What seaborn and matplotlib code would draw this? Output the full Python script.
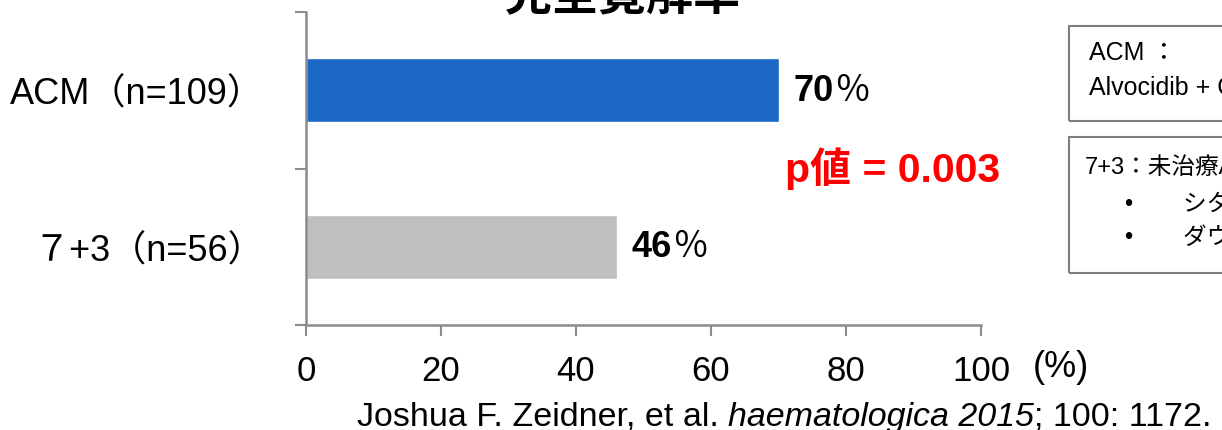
import matplotlib
matplotlib.use("Agg")
import matplotlib.pyplot as plt
import seaborn as sns
from matplotlib.patches import Rectangle

# Data
groups = ["ACM（n=109）", "７+3（n=56）"]
cr_rates = [70, 46]
bar_colors = ["#1B68C7", "#BFBFBF"]
x_ticks = [0, 20, 40, 60, 80, 100]
title = "完全寛解率"
p_text = "p値 = 0.003"
citation = ["Joshua F. Zeidner, et al. ", "haematologica 2015", "; 100: 1172."]
box1_lines = ["ACM ：", "Alvocidib + Cytarabine + Mitoxantrone"]
box2_lines = ["7+3：未治療AMLの標準的寛解導入療法", "シタラビン 7日間持続投与", "ダウノルビシン 3日間投与"]

sns.set_style("white")
plt.rcParams["font.family"] = ["Liberation Sans", "Noto Sans CJK JP", "DejaVu Sans"]
plt.rcParams["text.color"] = "black"
plt.rcParams["xtick.labelcolor"] = "black"
plt.rcParams["ytick.labelcolor"] = "black"

W, H = 1222, 431
fig = plt.figure(figsize=(W / 100, H / 100), dpi=100)
ax = fig.add_axes([306 / W, 1 - 326 / H, (981 - 306) / W, (326 - 13) / H])

sns.barplot(x=cr_rates, y=groups, hue=groups, palette=bar_colors, orient="h",
            width=0.41, legend=False, ax=ax, saturation=1)

ax.set_xlim(0, 100)
ax.set_ylim(1.5, -0.5)
ax.set_xlabel("")
ax.set_ylabel("")

axis_gray = "#8C8C8C"
for side in ["top", "right"]:
    ax.spines[side].set_visible(False)
for side in ["left", "bottom"]:
    ax.spines[side].set_color(axis_gray)
    ax.spines[side].set_linewidth(1.8)

# x axis
ax.set_xticks(x_ticks)
ax.set_xticklabels([str(t) for t in x_ticks], fontsize=25)
ax.tick_params(axis="x", bottom=True, direction="out", length=8, width=1.5,
               color=axis_gray, labelcolor="black", pad=13)

# y axis: labels at category centres, marks at boundaries
ax.set_yticks([0, 1])
ax.set_yticklabels(groups, fontsize=26)
ax.tick_params(axis="y", which="major", left=True, length=0, pad=30, labelcolor="black")
ax.set_yticks([-0.5, 0.5, 1.5], minor=True)
ax.tick_params(axis="y", which="minor", left=True, direction="out", length=8,
               width=1.5, color=axis_gray)

# value labels
for i, v in enumerate(cr_rates):
    t = ax.annotate(str(v), xy=(v, i), xytext=(11, 0), textcoords="offset points",
                    va="center", ha="left", fontsize=26, fontweight="bold", color="black")
    ax.annotate("％", xy=(1, 0), xycoords=t, va="bottom", ha="left", fontsize=26,
                family=["Noto Sans CJK JP"], color="black")

ax.text(785 / W, 1 - 169 / H, p_text, transform=fig.transFigure, color="#FF0000",
        fontsize=29.5, fontweight="bold", va="center", ha="left")

# (%) unit label
fig.text(1033 / W, 1 - 368 / H, "(%)", fontsize=26, va="center", ha="left")

# title (cut off at top of the frame)
fig.text(623 / W, 1 - 10 / H, title, fontsize=34, fontweight="bold", ha="center",
         va="baseline", family=["Noto Sans CJK JP"])

# citation with italic journal name
c0 = fig.text(357 / W, 1 - 426 / H, citation[0], fontsize=24.5, va="baseline", ha="left")
c1 = ax.annotate(citation[1], xy=(1, 0), xycoords=c0, fontsize=24.5, style="italic",
                 va="bottom", ha="left", annotation_clip=False)
ax.annotate(citation[2], xy=(1, 0), xycoords=c1, fontsize=24.5, va="bottom", ha="left",
            annotation_clip=False)

# side boxes (cut off on the right)
fig.patches.append(Rectangle((1069 / W, 1 - 122 / H), 300 / W, 95 / H, transform=fig.transFigure,
                             fill=False, edgecolor="#7F7F7F", linewidth=1.5))
fig.patches.append(Rectangle((1069 / W, 1 - 274 / H), 300 / W, 136 / H, transform=fig.transFigure,
                             fill=False, edgecolor="#7F7F7F", linewidth=1.5))
fig.text(1089 / W, 1 - 53 / H, box1_lines[0], fontsize=18, va="center", ha="left")
fig.text(1089 / W, 1 - 88 / H, box1_lines[1], fontsize=18, va="center", ha="left")
fig.text(1085 / W, 1 - 167 / H, box2_lines[0], fontsize=17, va="center", ha="left")
for yy, line in zip([205, 238], box2_lines[1:]):
    fig.text(1128 / W, 1 - yy / H, "•", fontsize=17, va="center", ha="center")
    fig.text(1183 / W, 1 - yy / H, line, fontsize=17, va="center", ha="left")

fig.savefig("out.png", dpi=100)
